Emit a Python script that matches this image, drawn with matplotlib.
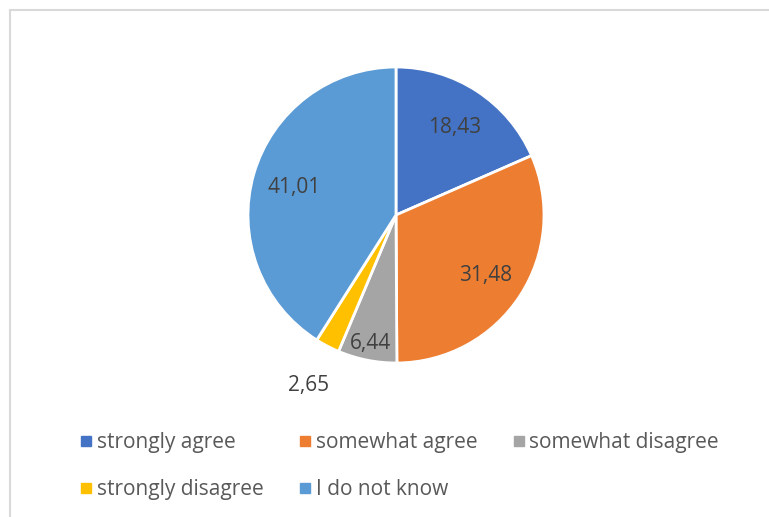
import numpy as np
import matplotlib.pyplot as plt
from matplotlib.patches import Rectangle
from matplotlib.lines import Line2D

plt.rcParams['font.family'] = ['Open Sans', 'DejaVu Sans']

# pie data (percent)
categories = ["strongly agree", "somewhat agree", "somewhat disagree",
              "strongly disagree", "I do not know"]
values = [18.43, 31.48, 6.44, 2.65, 41.01]
value_labels = ["18,43", "31,48", "6,44", "2,65", "41,01"]
colors = ["#4472C4", "#ED7D31", "#A5A5A5", "#FFC000", "#5B9BD5"]

W, H = 769, 517
fig = plt.figure(figsize=(W / 100, H / 100), dpi=100)

# chart border (cut at right/bottom like the source)
fig.patches.append(Rectangle((10 / W, -0.1), 1.2, (H - 10) / H + 0.1,
                             transform=fig.transFigure, fill=False,
                             edgecolor="#D9D9D9", linewidth=1.5))

# pie axes: centre (396,215), radius 148 px
cx, cy, r = 396, 215, 148
ax = fig.add_axes([(cx - r) / W, (H - cy - r) / H, 2 * r / W, 2 * r / H])
wedges, _ = ax.pie(values, colors=colors, startangle=90, counterclock=False,
                   wedgeprops=dict(edgecolor="white", linewidth=2))
ax.set_xlim(-1, 1)
ax.set_ylim(-1, 1)
ax.set_aspect("equal")
ax.axis("off")

# label distances from centre (fraction of radius)
dist = [0.73, 0.72, 0.87, 1.28, 0.72]
for w, lab, d in zip(wedges, value_labels, dist):
    ang = np.deg2rad((w.theta1 + w.theta2) / 2)
    ax.text(d * np.cos(ang), d * np.sin(ang), lab, ha="center",
            va="center_baseline", fontsize=15, color="#404040")

# legend, filled row by row (3 columns)
handles = [Line2D([], [], marker="s", linestyle="none", markersize=7,
                  markerfacecolor=c, markeredgecolor=c) for c in colors]
order = [0, 3, 1, 4, 2]
leg = fig.legend([handles[i] for i in order], [categories[i] for i in order],
                 ncol=3, loc="center", bbox_to_anchor=(398 / W, 1 - 466 / H),
                 frameon=False, fontsize=15, labelcolor="#595959",
                 handletextpad=0.05, columnspacing=1.55, labelspacing=1.25,
                 handlelength=0.9)

plt.savefig("out.png", dpi=100)
